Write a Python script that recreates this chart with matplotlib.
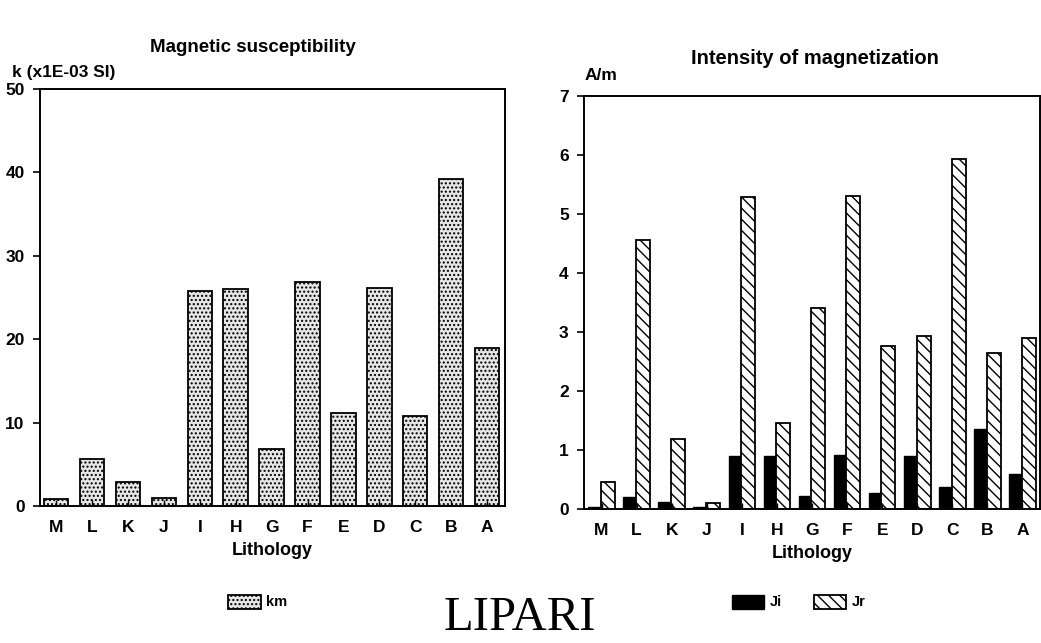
import matplotlib
matplotlib.use("Agg")
import matplotlib.pyplot as plt
import numpy as np

plt.rcParams['hatch.linewidth'] = 1.0

categories = ["M", "L", "K", "J", "I", "H", "G", "F", "E", "D", "C", "B", "A"]
km = [0.8, 5.6, 2.9, 1.0, 25.8, 26.0, 6.8, 26.9, 11.1, 26.1, 10.8, 39.2, 19.0]
ji = [0.03, 0.20, 0.12, 0.03, 0.90, 0.89, 0.22, 0.92, 0.27, 0.89, 0.38, 1.35, 0.59]
jr = [0.46, 4.56, 1.19, 0.10, 5.29, 1.46, 3.41, 5.31, 2.76, 2.93, 5.93, 2.65, 2.89]
left_yticks = [0, 10, 20, 30, 40, 50]
right_yticks = [0, 1, 2, 3, 4, 5, 6, 7]

W, H = 1041, 643
fig = plt.figure(figsize=(W / 100, H / 100), dpi=100)
FONT = "Liberation Sans"
x = np.arange(len(categories))


def frac(l, t, r, b):
    return [l / W, 1 - b / H, (r - l) / W, (b - t) / H]


def style(ax):
    for s in ax.spines.values():
        s.set_linewidth(1.4)
    ax.tick_params(axis='x', direction='in', length=4, width=1, pad=10)
    ax.tick_params(axis='y', direction='out', length=5, width=1.2, pad=6)
    for lab in ax.get_xticklabels() + ax.get_yticklabels():
        lab.set_fontfamily(FONT)
        lab.set_fontweight('bold')
        lab.set_fontsize(12.5)


# Left panel
ax1 = fig.add_axes(frac(40, 89, 505, 506))
b1 = ax1.bar(x, km, width=0.68, facecolor='#e6e6e6', edgecolor='black',
             linewidth=1.3, hatch='....', label='km')
ax1.set_xlim(-0.45, 12.5)
ax1.set_ylim(0, 50)
ax1.set_yticks(left_yticks)
ax1.set_xticks(x)
ax1.set_xticklabels(categories)
style(ax1)
ax1.set_xlabel("Lithology", fontfamily=FONT, fontweight='bold', fontsize=13, labelpad=5)
fig.text(12 / W, 1 - 72 / H, "k (x1E-03 SI)", fontfamily=FONT, fontweight='bold',
         fontsize=12.5, ha='left', va='center')
fig.text(253 / W, 1 - 48 / H, "Magnetic susceptibility", fontfamily=FONT,
         fontweight='bold', fontsize=13.5, ha='center', va='center')
fig.legend(handles=[b1], labels=['km'], loc='center',
           bbox_to_anchor=(258 / W, 1 - 602 / H), frameon=False,
           prop={'family': FONT, 'weight': 'bold', 'size': 10.5},
           handlelength=2.2, handleheight=1.1, handletextpad=0.4)

# Right panel
ax2 = fig.add_axes(frac(584, 96, 1040, 509))
b2 = ax2.bar(x - 0.2, ji, width=0.36, facecolor='black', edgecolor='black',
             linewidth=1.0, label='Ji')
b3 = ax2.bar(x + 0.18, jr, width=0.4, facecolor='white', edgecolor='black',
             linewidth=1.3, hatch='\\\\\\', label='Jr')
ax2.set_xlim(-0.5, 12.5)
ax2.set_ylim(0, 7)
ax2.set_yticks(right_yticks)
ax2.set_xticks(x)
ax2.set_xticklabels(categories)
style(ax2)
ax2.set_xlabel("Lithology", fontfamily=FONT, fontweight='bold', fontsize=13, labelpad=5)
fig.text(585 / W, 1 - 75 / H, "A/m", fontfamily=FONT, fontweight='bold',
         fontsize=12.5, ha='left', va='center')
fig.text(815 / W, 1 - 58 / H, "Intensity of magnetization", fontfamily=FONT,
         fontweight='bold', fontsize=14.5, ha='center', va='center')
fig.legend(handles=[b2, b3], labels=['Ji', 'Jr'], loc='center',
           bbox_to_anchor=(799 / W, 1 - 602 / H), frameon=False, ncol=2,
           prop={'family': FONT, 'weight': 'bold', 'size': 10.5},
           handlelength=2.2, handleheight=1.1, handletextpad=0.4,
           columnspacing=2.2)

fig.text(520 / W, 1 - 618 / H, "LIPARI", fontfamily="Liberation Serif",
         fontsize=35, ha='center', va='center')

fig.savefig("out.png", dpi=100)
